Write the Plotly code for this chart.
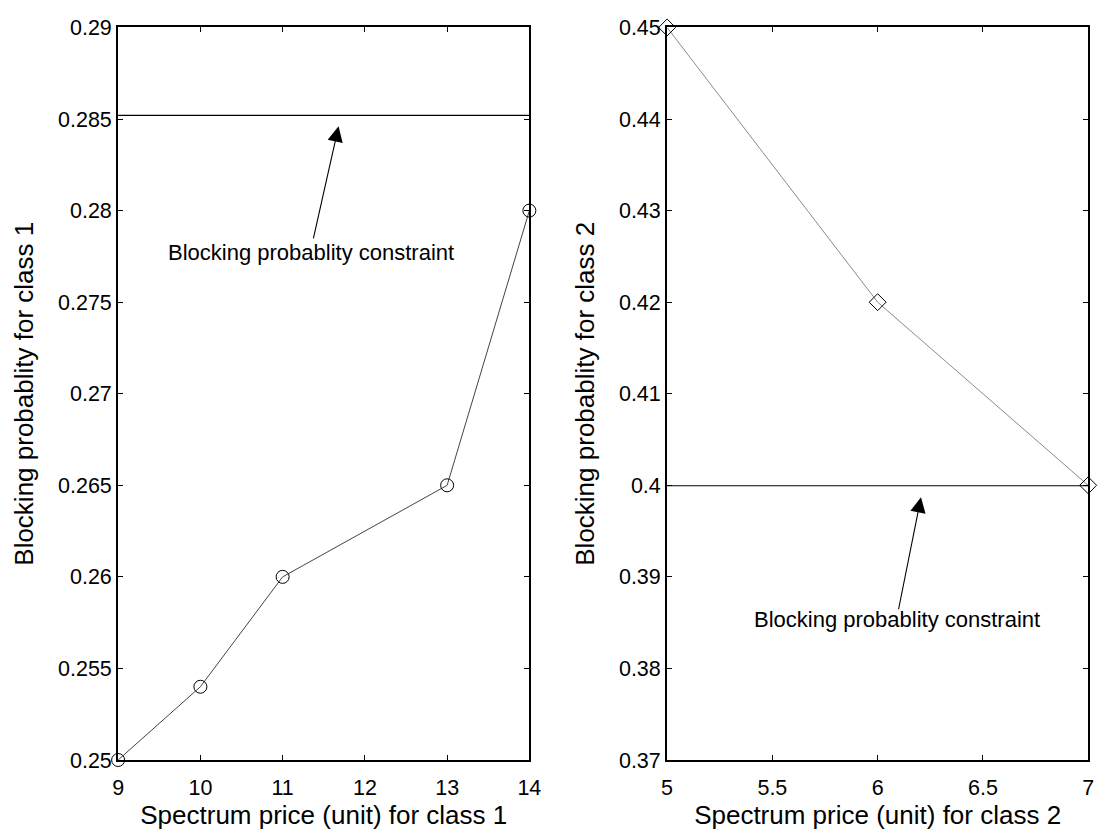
import plotly.graph_objects as go

# Left panel data (class 1)
price1 = [9, 10, 11, 13, 14]
block1 = [0.25, 0.254, 0.26, 0.265, 0.28]
constraint1 = 0.2852
x1_ticks = [9, 10, 11, 12, 13, 14]
y1_ticks = [0.25, 0.255, 0.26, 0.265, 0.27, 0.275, 0.28, 0.285, 0.29]
y1_labels = ["0.25", "0.255", "0.26", "0.265", "0.27", "0.275", "0.28", "0.285", "0.29"]

# Right panel data (class 2)
price2 = [5, 6, 7]
block2 = [0.45, 0.42, 0.40]
constraint2 = 0.39995
x2_ticks = [5, 5.5, 6, 6.5, 7]
x2_labels = ["5", "5.5", "6", "6.5", "7"]
y2_ticks = [0.37, 0.38, 0.39, 0.40, 0.41, 0.42, 0.43, 0.44, 0.45]
y2_labels = ["0.37", "0.38", "0.39", "0.4", "0.41", "0.42", "0.43", "0.44", "0.45"]

label_text = "Blocking probablity constraint"

FONT = "Liberation Sans, Arial, sans-serif"
TICK_SIZE = 21.5
TITLE_SIZE = 26
NOTE_SIZE = 22

fig = go.Figure()

fig.add_trace(go.Scatter(x=[price1[0], price1[-1]], y=[constraint1, constraint1], mode="lines",
                         line=dict(color="black", width=1.2), xaxis="x", yaxis="y",
                         showlegend=False, cliponaxis=False))
fig.add_trace(go.Scatter(x=price1, y=block1, mode="lines+markers",
                         line=dict(color="#444444", width=1),
                         marker=dict(symbol="circle-open", size=13, color="black", line=dict(width=1)),
                         xaxis="x", yaxis="y", showlegend=False, cliponaxis=False))

fig.add_trace(go.Scatter(x=[price2[0], price2[-1]], y=[constraint2, constraint2], mode="lines",
                         line=dict(color="black", width=1.2), xaxis="x2", yaxis="y2",
                         showlegend=False, cliponaxis=False))
fig.add_trace(go.Scatter(x=price2, y=block2, mode="lines+markers",
                         line=dict(color="#8a8a8a", width=1),
                         marker=dict(symbol="diamond-open", size=13, color="black", line=dict(width=1)),
                         xaxis="x2", yaxis="y2", showlegend=False, cliponaxis=False))

axis_common = dict(showgrid=False, zeroline=False, showline=True, linecolor="black", linewidth=2,
                   mirror="ticks", ticks="inside", ticklen=5, tickcolor="black", tickwidth=1,
                   tickfont=dict(family=FONT, size=TICK_SIZE, color="black"))

def title(text, standoff):
    return dict(text=text, font=dict(family=FONT, size=TITLE_SIZE, color="black"), standoff=standoff)

fig.update_layout(
    width=1112, height=840,
    margin=dict(l=0, r=0, t=0, b=0),
    paper_bgcolor="white", plot_bgcolor="white",
    xaxis=dict(domain=[0.1025, 0.4784], range=[9, 14], tickvals=x1_ticks, anchor="y",
               ticklabelstandoff=7, title=title("Spectrum price (unit) for class 1", 5), **axis_common),
    yaxis=dict(domain=[0.0821, 0.9798], range=[0.25, 0.29], tickvals=y1_ticks, ticktext=y1_labels, anchor="x",
               title=title("Blocking probablity for class 1", 17), **axis_common),
    xaxis2=dict(domain=[0.6043, 0.9892], range=[5, 7], tickvals=x2_ticks, ticktext=x2_labels, anchor="y2",
                ticklabelstandoff=7, title=title("Spectrum price (unit) for class 2", 5), **axis_common),
    yaxis2=dict(domain=[0.0821, 0.9798], range=[0.37, 0.45], tickvals=y2_ticks, ticktext=y2_labels, anchor="x2",
                title=title("Blocking probablity for class 2", 17), **axis_common),
)

fig.add_annotation(x=11.68, y=0.2846, ax=11.37, ay=0.2784, xref="x", yref="y", axref="x", ayref="y",
                   text="", showarrow=True, arrowhead=2, arrowsize=2.8, arrowwidth=1.1, arrowcolor="black")
fig.add_annotation(x=11.34, y=0.2777, xref="x", yref="y", text=label_text, showarrow=False,
                   font=dict(family=FONT, size=NOTE_SIZE, color="black"))

fig.add_annotation(x=6.206, y=0.3987, ax=6.098, ay=0.3863, xref="x2", yref="y2", axref="x2", ayref="y2",
                   text="", showarrow=True, arrowhead=2, arrowsize=2.8, arrowwidth=1.1, arrowcolor="black")
fig.add_annotation(x=6.09, y=0.3853, xref="x2", yref="y2", text=label_text, showarrow=False,
                   font=dict(family=FONT, size=NOTE_SIZE, color="black"))

fig.write_html("out.html")
